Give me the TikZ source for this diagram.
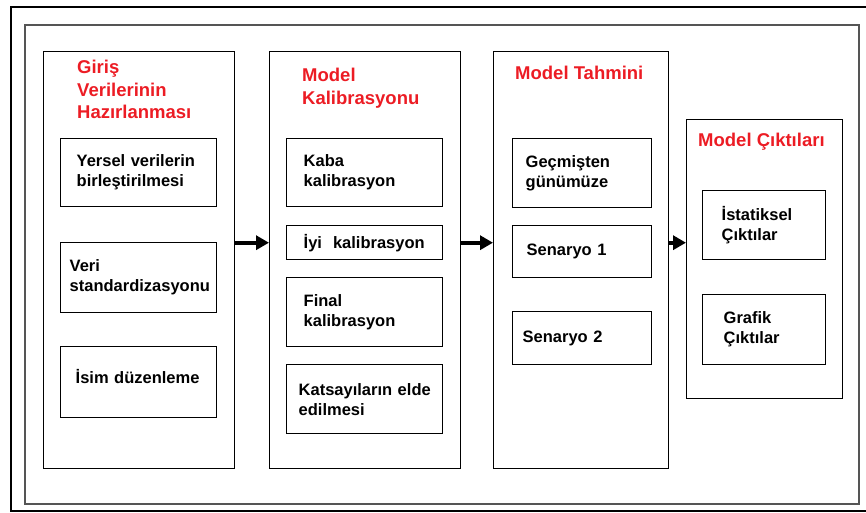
\documentclass[tikz,border=0pt]{standalone}
\usepackage{fontspec}
\setmainfont{Liberation Sans}
\usepackage{tikz}
\usetikzlibrary{
  arrows.meta
}
\definecolor{titlered}{RGB}{236,28,36}
\definecolor{framegray}{RGB}{85,85,85}

\tikzset{
  colbox/.style={draw, line width=1.4pt, anchor=north west, inner sep=0pt},
  stepbox/.style={draw, line width=1.4pt, anchor=north west, align=left,
    inner ysep=0pt, execute at begin node={\hyphenpenalty=10000},
    font=\bfseries\fontsize{16.5}{20}\selectfont},
  coltitle/.style={text=titlered, anchor=north west, align=left, inner sep=0pt,
    font=\bfseries\fontsize{18.5}{22.5}\selectfont},
  flow/.style={line width=3.6pt, -{Triangle[length=13pt,width=14pt]}}
}

\begin{document}
\begin{tikzpicture}[x=1pt,y=-1pt]
\useasboundingbox (0,0) rectangle (866,513);
% frames
\draw[line width=1.5pt] (870,7) -- (11,7) -- (11,511) -- (870,511);
\draw[framegray, line width=1.6pt] (25,25) rectangle (859,504);

% columns
\node[colbox, minimum width=191pt, minimum height=417pt] (c1) at (43,51) {};
\node[colbox, minimum width=191pt, minimum height=417pt] (c2) at (269,51) {};
\node[colbox, minimum width=175pt, minimum height=417pt] (c3) at (493,51) {};
\node[colbox, minimum width=156pt, minimum height=279pt] (c4) at (686,119) {};

\node[coltitle] (t1) at (77,60) {Giriş\\Verilerinin\\Hazırlanması};
\node[coltitle] (t2) at (302,68) {Model\\Kalibrasyonu};
\node[coltitle] (t3) at (515,66) {Model Tahmini};
\node[coltitle] (t4) at (698,133) {Model Çıktıları};

% Giris verileri
\node[stepbox, inner xsep=16pt, text width=124pt, minimum height=68pt] (a1) at (60,138) {Yersel verilerin\\birleştirilmesi};
\node[stepbox, inner xsep=9pt, text width=138pt, minimum height=70pt] (a2) at (60,242) {Veri\\\mbox{standardizasyonu}};
\node[stepbox, inner xsep=15pt, text width=126pt, minimum height=71pt] (a3) at (60,346) {İsim düzenleme\\[-8pt]\mbox{}};

% kalibrasyon
\node[stepbox, inner xsep=17pt, text width=122pt, minimum height=68pt] (b1) at (286,138) {Kaba\\kalibrasyon};
\node[stepbox, inner xsep=17pt, text width=122pt, minimum height=34pt] (b2) at (286,225) {İyi~ kalibrasyon};
\node[stepbox, inner xsep=17pt, text width=122pt, minimum height=69pt] (b3) at (286,277) {Final\\kalibrasyon};
\node[stepbox, inner xsep=12pt, text width=132pt, minimum height=69pt] (b4) at (286,364) {\mbox{Katsayıların elde}\\edilmesi};

% tahmin
\node[stepbox, inner xsep=13pt, text width=113pt, minimum height=69pt] (d1) at (512,138) {Geçmişten\\günümüze};
\node[stepbox, inner xsep=14pt, text width=111pt, minimum height=52pt] (d2) at (512,225) {Senaryo 1};
\node[stepbox, inner xsep=10pt, text width=119pt, minimum height=53pt] (d3) at (512,311) {Senaryo 2};

% ciktilar
\node[stepbox, inner xsep=19pt, text width=85pt, minimum height=69pt] (e1) at (702,190) {İstatiksel\\Çıktılar};
\node[stepbox, inner xsep=21pt, text width=81pt, minimum height=70pt] (e2) at (702,294) {Grafik\\Çıktılar};

% oklar
\draw[flow] ([yshift=17.5pt]c1.east) -- ([yshift=17.5pt]c2.west);
\draw[flow] ([yshift=17.5pt]c2.east) -- ([yshift=17.5pt]c3.west);
\draw[flow] ([yshift=17.5pt]c3.east) -- ([yshift=17.5pt]c3.east -| c4.west);
\end{tikzpicture}
\end{document}
